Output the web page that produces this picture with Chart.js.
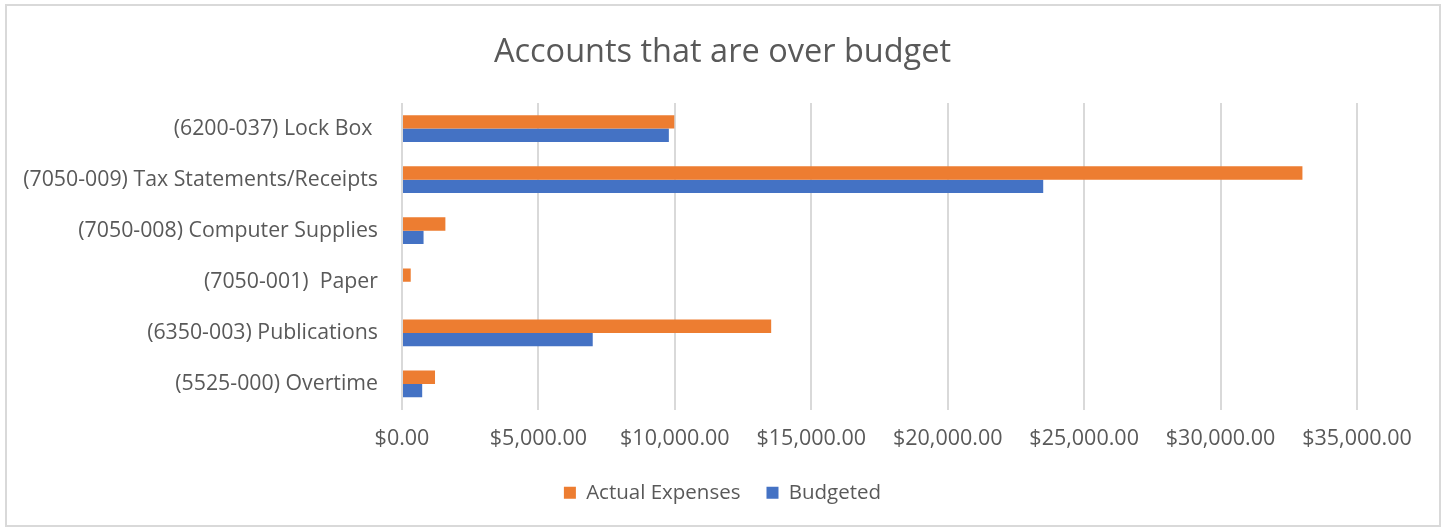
<!DOCTYPE html>
<html>
<head>
<meta charset="utf-8">
<script src="https://cdn.jsdelivr.net/npm/chart.js@4"></script>
<style>
  html, body { margin: 0; padding: 0; background: #fff; }
  #frame { position: absolute; left: 5px; top: 4px; width: 1436px; height: 523px; border: 2px solid #d9d9d9; box-sizing: border-box; }
  #c { position: absolute; left: 0; top: 0; }
</style>
</head>
<body>
<div id="frame"></div>
<canvas id="c" width="1445" height="529"></canvas>
<script>
const categories = [
  "(6200-037) Lock Box ",
  "(7050-009) Tax Statements/Receipts",
  "(7050-008) Computer Supplies",
  "(7050-001)  Paper",
  "(6350-003) Publications",
  "(5525-000) Overtime"
];
const actualExpenses = [9980, 33000, 1590, 320, 13530, 1210];
const budgeted = [9780, 23500, 790, 0, 6990, 740];
const xMin = 0, xMax = 35000, xStep = 5000;

const FONT = "'Open Sans', 'Noto Sans', sans-serif";
const GREY = "#595959";

new Chart(document.getElementById('c'), {
  type: 'bar',
  data: {
    labels: categories,
    datasets: [
      { label: 'Actual Expenses', data: actualExpenses, backgroundColor: '#ED7D31', borderWidth: 0 },
      { label: 'Budgeted', data: budgeted, backgroundColor: '#4472C4', borderWidth: 0 }
    ]
  },
  options: {
    indexAxis: 'y',
    responsive: false,
    animation: false,
    layout: { padding: { left: 10, right: 10, top: 33, bottom: 16 } },
    datasets: { bar: { categoryPercentage: 0.525, barPercentage: 1.0 } },
    plugins: {
      title: {
        display: true,
        text: 'Accounts that are over budget',
        color: GREY,
        font: { family: FONT, size: 32.5, weight: 'normal' },
        padding: { top: 0, bottom: 31 }
      },
      legend: {
        position: 'bottom',
        labels: {
          color: GREY,
          font: { family: FONT, size: 20.5 },
          boxWidth: 12, boxHeight: 12,
          padding: 26
        }
      },
      tooltip: { enabled: false }
    },
    scales: {
      x: {
        min: xMin, max: xMax,
        ticks: {
          stepSize: xStep,
          color: GREY,
          font: { family: FONT, size: 21.5 },
          padding: 16,
          maxRotation: 0,
          callback: v => '$' + Number(v).toLocaleString('en-US', { minimumFractionDigits: 2, maximumFractionDigits: 2 })
        },
        grid: { color: '#d9d9d9', lineWidth: 2, drawTicks: false },
        border: { display: false },
        afterFit: s => { s.height = 47; }
      },
      y: {
        ticks: {
          color: GREY,
          font: { family: FONT, size: 21.3 },
          padding: 24
        },
        grid: { display: false, drawTicks: false },
        border: { display: false },
        afterFit: s => { s.width = 392; }
      },
      yR: {
        type: 'category',
        position: 'right',
        ticks: { display: false },
        grid: { display: false, drawTicks: false },
        border: { display: false },
        afterFit: s => { s.width = 78; }
      }
    }
  }
});
</script>
</body>
</html>
